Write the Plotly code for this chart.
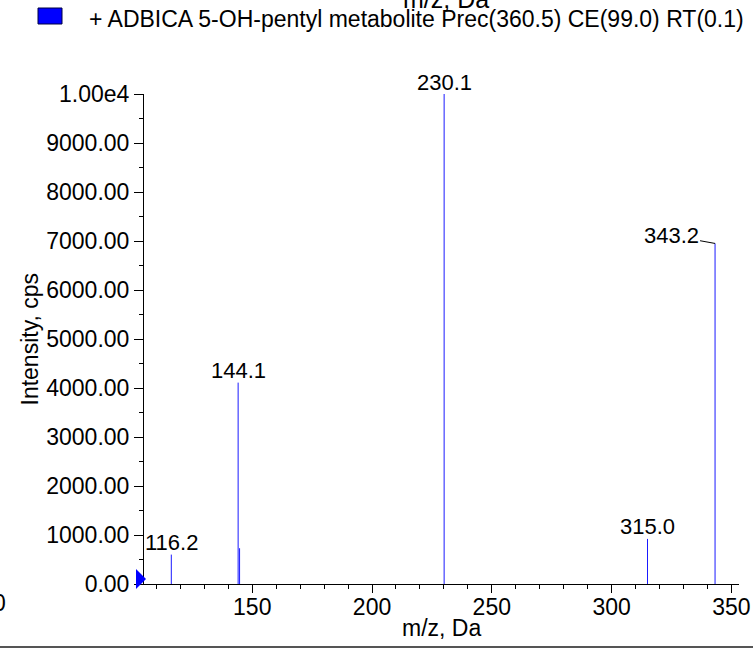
import plotly.graph_objects as go

# ---- data ----
mz = [116.2, 144.1, 144.7, 230.1, 315.0, 343.2]
intensity = [600, 4110, 730, 10000, 920, 6950]
peak_labels = ["116.2", "144.1", "", "230.1", "315.0", "343.2"]
x_range = [104.8, 353.2]
y_tickvals = [0, 1000, 2000, 3000, 4000, 5000, 6000, 7000, 8000, 9000, 10000]
y_ticktext = ["0.00", "1000.00", "2000.00", "3000.00", "4000.00", "5000.00",
              "6000.00", "7000.00", "8000.00", "9000.00", "1.00e4"]
legend_text = "+ ADBICA 5-OH-pentyl metabolite Prec(360.5) CE(99.0) RT(0.1)"
x_title = "m/z, Da"
y_title = "Intensity, cps"

W, H = 753, 651
BOX_L, BOX_R, BOX_T, BOX_B = 144, 739, 94, 584   # plot box in page pixels
ML, MT = BOX_L, BOX_T
MR, MB = W - BOX_R, H - BOX_B
PW, PH = BOX_R - BOX_L, BOX_B - BOX_T
FONT = "Liberation Sans, Arial, sans-serif"


def px(x):
    return (x - BOX_L) / PW


def py(y):
    return (BOX_B - y) / PH


# stick spectrum built from the arrays
xs, ys = [], []
for m, i in zip(mz, intensity):
    xs += [m, m, None]
    ys += [0, i, None]

fig = go.Figure()
fig.add_trace(go.Scatter(x=xs, y=ys, mode="lines",
                         line=dict(color="#1a1aff", width=1),
                         hoverinfo="skip", showlegend=False))

annotations = []
for m, i, lab in zip(mz, intensity, peak_labels):
    if not lab:
        continue
    if lab == "343.2":
        annotations.append(dict(x=m, y=i, xref="x", yref="y", text=lab,
                                showarrow=True, arrowhead=0, arrowwidth=1,
                                arrowcolor="#000000", ax=-44, ay=-8,
                                standoff=0, font=dict(size=22, color="#000000", family=FONT)))
    else:
        annotations.append(dict(x=m, y=i, xref="x", yref="y", text=lab,
                                showarrow=False, yanchor="middle", yshift=12,
                                font=dict(size=22, color="#000000", family=FONT)))

annotations += [
    dict(x=px(87), y=py(19), xref="paper", yref="paper", text=legend_text,
         showarrow=False, xanchor="left", yanchor="middle",
         font=dict(size=23, color="#000000", family=FONT)),
    dict(x=px(446), y=py(-1.5), xref="paper", yref="paper", text=x_title,
         showarrow=False, xanchor="center", yanchor="middle",
         font=dict(size=25, color="#000000", family=FONT)),
    dict(x=px(441), y=py(628), xref="paper", yref="paper", text=x_title,
         showarrow=False, xanchor="center", yanchor="middle",
         font=dict(size=23, color="#000000", family=FONT)),
    dict(x=px(29.5), y=py(339), xref="paper", yref="paper", text=y_title,
         showarrow=False, textangle=-90, xanchor="center", yanchor="middle",
         font=dict(size=23, color="#000000", family=FONT)),
    dict(x=px(7.5), y=py(603), xref="paper", yref="paper", text="0",
         showarrow=False, xanchor="right", yanchor="middle",
         font=dict(size=23, color="#000000", family=FONT)),
]

shapes = [
    # legend swatch
    dict(type="rect", xref="paper", yref="paper",
         x0=px(38), x1=px(62), y0=py(24), y1=py(8),
         fillcolor="#0000ff", line=dict(color="#000040", width=1)),
    # base marker triangle
    dict(type="path", xref="paper", yref="paper",
         path="M {a},{b} L {c},{d} L {a},{e} Z".format(
             a=px(136), b=py(569), c=px(146), d=py(579), e=py(589)),
         fillcolor="#0000ff", line=dict(color="#0000ff", width=0)),
    # bottom separator
    dict(type="line", xref="paper", yref="paper",
         x0=px(0), x1=px(753), y0=py(647), y1=py(647),
         line=dict(color="#555555", width=2)),
]

fig.update_layout(
    width=W, height=H,
    margin=dict(l=ML, r=MR, t=MT, b=MB, pad=0, autoexpand=False),
    paper_bgcolor="white", plot_bgcolor="white",
    font=dict(family=FONT, size=23, color="#000000"),
    annotations=annotations, shapes=shapes,
    showlegend=False,
)
fig.update_xaxes(range=x_range, showline=True, linecolor="#000000", linewidth=1,
                 automargin=False,
                 ticks="outside", ticklen=8, tickwidth=1, tickcolor="#000000",
                 tick0=0, dtick=50, showgrid=False, zeroline=False,
                 ticklabelstandoff=-6,
                 tickfont=dict(size=23, family=FONT, color="#000000"),
                 minor=dict(ticks="outside", ticklen=4, tickcolor="#000000",
                            tick0=0, dtick=10, showgrid=False))
fig.update_yaxes(range=[0, 10000], showline=True, linecolor="#000000", linewidth=1,
                 automargin=False,
                 tickmode="array", tickvals=y_tickvals, ticktext=y_ticktext,
                 ticks="outside", ticklen=9, tickwidth=1, tickcolor="#000000",
                 showgrid=False, zeroline=False,
                 tickfont=dict(size=23, family=FONT, color="#000000"),
                 minor=dict(ticks="outside", ticklen=4, tickcolor="#000000",
                            tick0=500, dtick=1000, showgrid=False))

fig.write_html("out.html",
               config={"displayModeBar": False},
               post_script="document.body.style.margin='0';"
                           "document.body.style.overflow='hidden';")
